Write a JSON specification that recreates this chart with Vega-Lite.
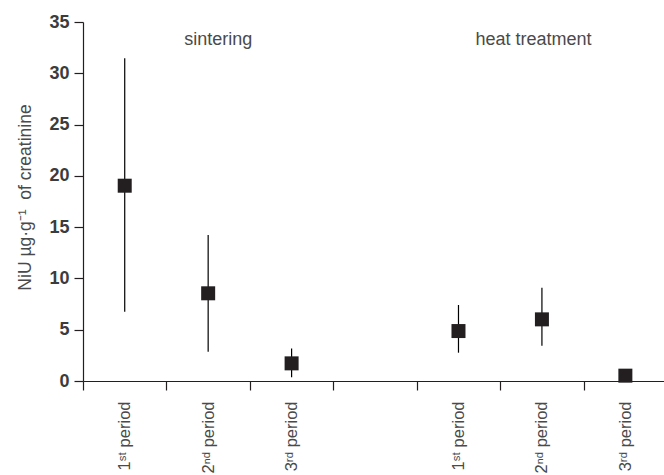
{
  "$schema": "https://vega.github.io/schema/vega-lite/v6.json",
  "width": 581,
  "height": 359,
  "autosize": "none",
  "padding": {"left": 83, "top": 22, "right": 0, "bottom": 94},
  "background": "white",
  "config": {
    "view": {"stroke": null},
    "font": "Liberation Sans"
  },
  "datasets": {
    "obs": [
      {"group": "sintering", "period": "1st period", "slot": 0.5, "mean": 19.04, "lo": 6.76, "hi": 31.46},
      {"group": "sintering", "period": "2nd period", "slot": 1.5, "mean": 8.55, "lo": 2.86, "hi": 14.23},
      {"group": "sintering", "period": "3rd period", "slot": 2.5, "mean": 1.72, "lo": 0.36, "hi": 3.18},
      {"group": "heat treatment", "period": "1st period", "slot": 4.5, "mean": 4.87, "lo": 2.76, "hi": 7.41},
      {"group": "heat treatment", "period": "2nd period", "slot": 5.5, "mean": 6.01, "lo": 3.44, "hi": 9.1},
      {"group": "heat treatment", "period": "3rd period", "slot": 6.5, "mean": 0.52, "lo": 0.3, "hi": 0.8}
    ],
    "notes": [
      {"label": "sintering", "slot": 1.62, "yv": 32.8},
      {"label": "heat treatment", "slot": 5.4, "yv": 32.8}
    ]
  },
  "layer": [
    {
      "data": {"name": "obs"},
      "mark": {"type": "rule", "color": "#000000", "strokeWidth": 1.2},
      "encoding": {
        "x": {
          "field": "slot", "type": "quantitative",
          "scale": {"domain": [0, 6.963], "nice": false, "zero": false},
          "axis": {
            "title": null,
            "values": [0, 1, 2, 3, 4, 5, 6],
            "grid": false,
            "tickSize": 9,
            "tickWidth": 1.2,
            "tickColor": "#231f20",
            "domainColor": "#231f20",
            "domainWidth": 1.2,
            "labelAngle": -90,
            "labelOffset": 41.7,
            "labelPadding": 11,
            "labelFontSize": 16.5,
            "labelColor": "#4a4a4a",
            "labelFont": "Liberation Sans",
            "labelOverlap": false,
            "labelFlush": false,
            "labelBound": false,
            "labelExpr": "datum.value == 0 || datum.value == 4 ? '1ˢᵗ\u00a0period' : datum.value == 1 || datum.value == 5 ? '2ⁿᵈ\u00a0period' : datum.value == 2 || datum.value == 6 ? '3ʳᵈ\u00a0period' : ''"
          }
        },
        "y": {
          "field": "lo", "type": "quantitative",
          "scale": {"domain": [0, 35], "nice": false},
          "axis": {
            "title": "NiU µg·g⁻¹\u00a0\u00a0of creatinine",
            "values": [0, 5, 10, 15, 20, 25, 30, 35],
            "grid": false,
            "tickSize": 9,
            "tickWidth": 1.2,
            "tickColor": "#231f20",
            "domainColor": "#231f20",
            "domainWidth": 1.2,
            "labelFont": "Liberation Sans",
            "labelFontWeight": "bold",
            "labelFontSize": 18,
            "labelColor": "#3c3c3c",
            "labelPadding": 5,
            "titleFont": "Liberation Sans",
            "titleFontWeight": "normal",
            "titleFontSize": 17.5,
            "titleColor": "#4a4a4a",
            "titleAngle": -90,
            "titleAlign": "center",
            "titleBaseline": "middle",
            "titleX": -58,
            "titleY": 175
          }
        },
        "y2": {"field": "hi"}
      }
    },
    {
      "data": {"name": "obs"},
      "mark": {"type": "point", "shape": "square", "filled": true, "size": 196, "color": "#231f20", "opacity": 1},
      "encoding": {
        "x": {"field": "slot", "type": "quantitative"},
        "y": {"field": "mean", "type": "quantitative"}
      }
    },
    {
      "data": {"name": "notes"},
      "mark": {"type": "text", "font": "Liberation Sans", "fontSize": 18, "color": "#4a4a4a", "align": "center", "baseline": "alphabetic"},
      "encoding": {
        "x": {"field": "slot", "type": "quantitative"},
        "y": {"field": "yv", "type": "quantitative"},
        "text": {"field": "label"}
      }
    }
  ]
}
